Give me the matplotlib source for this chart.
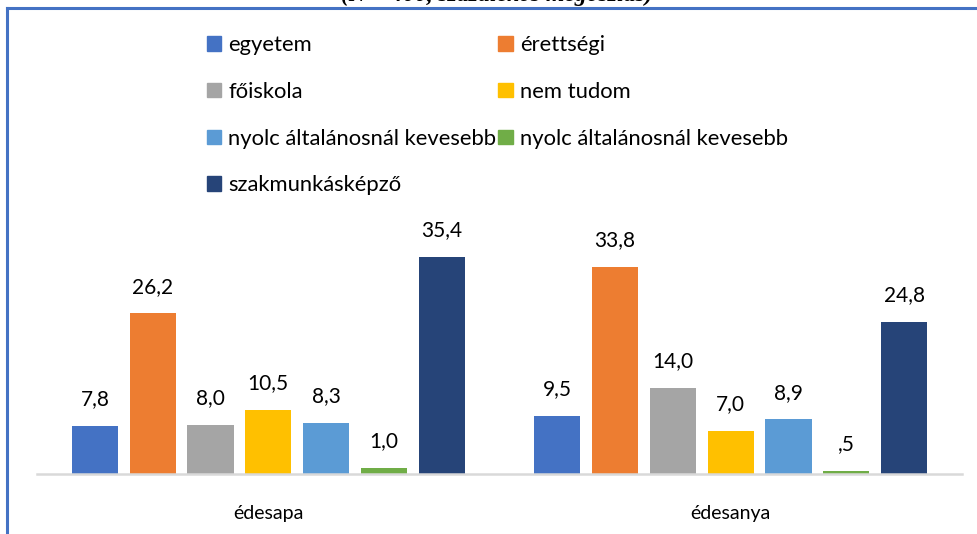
import matplotlib.pyplot as plt
from matplotlib.lines import Line2D
from matplotlib.patches import Patch
import numpy as np

plt.rcParams['font.family'] = ['Lato', 'DejaVu Sans']

categories = ['édesapa', 'édesanya']
series = ['egyetem', 'érettségi', 'főiskola', 'nem tudom',
          'nyolc általánosnál kevesebb', 'nyolc általánosnál kevesebb',
          'szakmunkásképző']
values = [
    [7.8, 9.5],
    [26.2, 33.8],
    [8.0, 14.0],
    [10.5, 7.0],
    [8.3, 8.9],
    [1.0, 0.5],
    [35.4, 24.8],
]
labels = [
    ['7,8', '9,5'],
    ['26,2', '33,8'],
    ['8,0', '14,0'],
    ['10,5', '7,0'],
    ['8,3', '8,9'],
    ['1,0', ',5'],
    ['35,4', '24,8'],
]
colors = ['#4472C4', '#ED7D31', '#A5A5A5', '#FFC000', '#5B9BD5', '#70AD47', '#264478']

W, H = 978, 534
fig = plt.figure(figsize=(W / 100, H / 100), dpi=100)

# plot area: baseline at y=474px, from x=37 to x=962
ax = fig.add_axes([37 / W, (H - 474) / H, 925 / W, 284 / H])

x = np.arange(len(categories))
width = 0.1
step = 0.125
handles = []
for i, (name, vals, labs, col) in enumerate(zip(series, values, labels, colors)):
    pos = x + (i - 3) * step
    bars = ax.bar(pos, vals, width=width, color=col, label=name)
    handles.append(Patch(color=col, label=name))
    for b, lab in zip(bars, labs):
        ax.annotate(lab, (b.get_x() + b.get_width() / 2, b.get_height()),
                    xytext=(0, 12), textcoords='offset points',
                    ha='center', va='bottom', fontsize=15, color='#000000')

ax.set_xlim(-0.5, 1.5)
ax.set_ylim(0, 46.3)
for s in ['top', 'right', 'left']:
    ax.spines[s].set_visible(False)
ax.spines['bottom'].set_color('#D9D9D9')
ax.spines['bottom'].set_linewidth(1.8)
ax.set_yticks([])
ax.set_xticks(x)
ax.set_xticklabels(categories, fontsize=14)
ax.tick_params(axis='x', length=0, pad=22)

# legend, row-major order like the original
order = [0, 2, 4, 6, 1, 3, 5]
leg = fig.legend([handles[k] for k in order], [series[k] for k in order],
                 ncol=2, loc='upper left', bbox_to_anchor=(207 / W, 1 - 35 / H),
                 frameon=False, fontsize=15.8, handlelength=0.64, handleheight=0.64,
                 handletextpad=0.33, columnspacing=0.1, labelspacing=1.22,
                 borderaxespad=0, borderpad=0)

# title, mostly cut off at the top edge
fig.text(497 / W, 1 - 1 / H, '(N = 400, százalékos megoszlás)', ha='center', va='baseline',
         fontsize=17, fontweight='bold', fontstyle='italic', family='Liberation Serif')

# chart border (blue frame)
fig.add_artist(Line2D([7 / W, 1], [1 - 8 / H, 1 - 8 / H], color='#4472C4', lw=2.2))
fig.add_artist(Line2D([7 / W, 7 / W], [0, 1 - 8 / H], color='#4472C4', lw=2.2))

fig.savefig('out.png', dpi=100)
